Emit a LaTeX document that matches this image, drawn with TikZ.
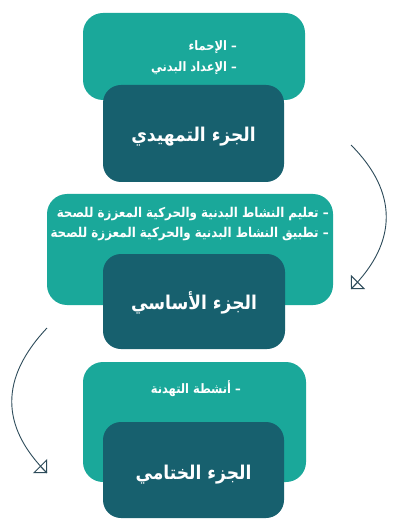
\documentclass[tikz,border=0pt]{standalone}
\usepackage{fontspec}
\newfontfamily\arabicfont[Script=Arabic]{DejaVu Sans}
\TeXXeTstate=1
\usetikzlibrary{arrows.meta}
\definecolor{lightteal}{RGB}{26,168,154}
\definecolor{darkteal}{RGB}{23,96,110}
\definecolor{arrowcol}{RGB}{45,75,90}
\newcommand{\itm}[1]{\scalebox{0.88}[1]{\beginR #1\endR}}
\newcommand{\ttl}[1]{\scalebox{0.9}[1]{\beginR #1\endR}}
\tikzset{
  outerbox/.style={fill=lightteal, draw=none, rounded corners=20pt, inner sep=0pt},
  darkbox/.style={fill=darkteal, draw=none, rounded corners=18pt, inner sep=0pt},
  itemtext/.style={text=white, inner sep=0pt, anchor=base east, font=\arabicfont\bfseries\fontsize{13}{15}\selectfont},
  titletext/.style={text=white, inner sep=0pt, anchor=base, font=\arabicfont\bfseries\fontsize{19}{22}\selectfont},
  arrowline/.style={draw=arrowcol, line width=0.9pt},
  arrowtip/.style={arrowline, -{Triangle[open, angle=90:14pt, line width=0.9pt]}}
}
\begin{document}
\begin{tikzpicture}[x=1pt,y=-1pt]
\useasboundingbox[fill=white] (0,0) rectangle (400,529);
% block 1
\node[outerbox, minimum width=222pt, minimum height=87pt] (o1) at (194,56.5) {};
\node[darkbox, minimum width=181pt, minimum height=97pt] (d1) at (193.5,133.5) {};
\node[itemtext] (t1a) at (237,51) {\itm{– الإحماء}};
\node[itemtext] (t1b) at (237,72) {\itm{– الإعداد البدني}};
\node[titletext] (h1) at (193.5,142) {\ttl{الجزء التمهيدي}};
% block 2
\node[outerbox, minimum width=286pt, minimum height=111pt] (o2) at (190,249.5) {};
\node[darkbox, minimum width=182pt, minimum height=95pt] (d2) at (194,301.5) {};
\node[itemtext, font=\arabicfont\bfseries\fontsize{13.5}{15}\selectfont] (t2a) at (329,218) {\itm{– تعليم النشاط البدنية والحركية المعززة للصحة}};
\node[itemtext, font=\arabicfont\bfseries\fontsize{13.5}{15}\selectfont] (t2b) at (329,237) {\itm{– تطبيق النشاط البدنية والحركية المعززة للصحة}};
\node[titletext] (h2) at (194,309) {\ttl{الجزء الأساسي}};
% block 3
\node[outerbox, minimum width=223pt, minimum height=120pt] (o3) at (194.5,422) {};
\node[darkbox, minimum width=181pt, minimum height=96pt] (d3) at (193.5,470) {};
\node[itemtext] (t3a) at (241,393) {\itm{– أنشطة التهدنة}};
\node[titletext] (h3) at (193.5,479) {\ttl{الجزء الختامي}};
% arrows
\coordinate (a1s) at (351,145);
\coordinate (a1t) at (352,288);
\coordinate (a1e) at (351,289);
\draw[arrowline] (a1s) .. controls (398,192) and (398,242) .. (a1e);
\draw[arrowtip] (a1t) -- (a1e);
\coordinate (a2s) at (47,328);
\coordinate (a2t) at (46,472);
\coordinate (a2e) at (47,473);
\draw[arrowline] (a2s) .. controls (0,378) and (0,426) .. (a2e);
\draw[arrowtip] (a2t) -- (a2e);
\end{tikzpicture}
\end{document}
